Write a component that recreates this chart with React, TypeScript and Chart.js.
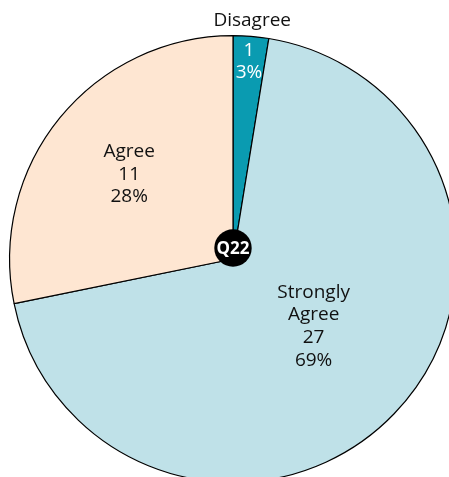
import React, { useEffect, useRef } from "react";
import { Chart, registerables } from "chart.js";

Chart.register(...registerables);

// Survey responses for question 22
const questionId = "Q22";
const categories = ["Disagree", "Strongly Agree", "Agree"];
const counts = [1, 27, 11];

const sliceColors = ["#0a9bb1", "#bfe1e8", "#fee6d2"];
const textColors = ["#ffffff", "#111111", "#111111"];
// radial placement of each slice's text block (fraction of radius) and angle nudge (degrees)
const labelRadius = [0.886, 0.47, 0.6];
const labelAngleNudge = [0, -4, 0];
// names drawn outside the pie for the narrow slice
const nameOutside = [true, false, false];

const FONT = '"Open Sans", "Noto Sans", sans-serif';

const sliceLabels = {
  id: "sliceLabels",
  afterDatasetsDraw(chart: any) {
    const ctx = chart.ctx;
    const meta = chart.getDatasetMeta(0);
    const total = counts.reduce((a, b) => a + b, 0);
    ctx.save();
    ctx.font = `19px ${FONT}`;
    ctx.textAlign = "center";
    ctx.textBaseline = "middle";
    const lineH = 22.7;
    meta.data.forEach((arc: any, i: number) => {
      const { x, y, startAngle, endAngle, outerRadius } = arc.getProps(
        ["x", "y", "startAngle", "endAngle", "outerRadius"],
        true
      );
      const mid = (startAngle + endAngle) / 2 + (labelAngleNudge[i] * Math.PI) / 180;
      const pct = Math.round((counts[i] / total) * 100) + "%";
      const lines: string[] = [];
      if (!nameOutside[i]) lines.push(...categories[i].split(" "));
      lines.push(String(counts[i]), pct);
      const r = outerRadius * labelRadius[i];
      const cx = x + Math.cos(mid) * r;
      const cy = y + Math.sin(mid) * r;
      ctx.fillStyle = textColors[i];
      lines.forEach((ln, k) => {
        ctx.fillText(ln, cx, cy + (k - (lines.length - 1) / 2) * lineH);
      });
      if (nameOutside[i]) {
        const ro = outerRadius * 1.07;
        ctx.fillStyle = "#111111";
        ctx.fillText(categories[i], x + Math.cos(mid) * ro, y + Math.sin(mid) * ro);
      }
    });
    ctx.restore();
  },
  afterDraw(chart: any) {
    const ctx = chart.ctx;
    const arc = chart.getDatasetMeta(0).data[0];
    if (!arc) return;
    const bx = arc.x;
    const by = arc.y - 11;
    ctx.save();
    ctx.beginPath();
    ctx.arc(bx, by, 18.7, 0, Math.PI * 2);
    ctx.fillStyle = "#000000";
    ctx.fill();
    ctx.fillStyle = "#ffffff";
    ctx.font = `bold 17px ${FONT}`;
    ctx.textAlign = "center";
    ctx.textBaseline = "middle";
    ctx.fillText(questionId, bx, by + 1);
    ctx.restore();
  },
};

export default function App() {
  const canvasRef = useRef<HTMLCanvasElement | null>(null);

  useEffect(() => {
    if (!canvasRef.current) return;
    const chart = new Chart(canvasRef.current, {
      type: "pie",
      data: {
        labels: categories,
        datasets: [
          {
            data: counts,
            backgroundColor: sliceColors,
            borderColor: "#000000",
            borderWidth: 1.2,
            hoverOffset: 0,
          },
        ],
      },
      options: {
        responsive: false,
        animation: false,
        events: [],
        layout: { padding: { left: 9, right: 9, top: 35, bottom: 35 } },
        plugins: {
          legend: { display: false },
          tooltip: { enabled: false },
        },
      },
      plugins: [sliceLabels],
    });
    return () => chart.destroy();
  }, []);

  return (
    <div
      style={{
        position: "fixed",
        left: 0,
        top: 0,
        width: 449,
        height: 477,
        overflow: "hidden",
        background: "#ffffff",
      }}
    >
      <canvas ref={canvasRef} width={466} height={518} style={{ display: "block" }} />
    </div>
  );
}
